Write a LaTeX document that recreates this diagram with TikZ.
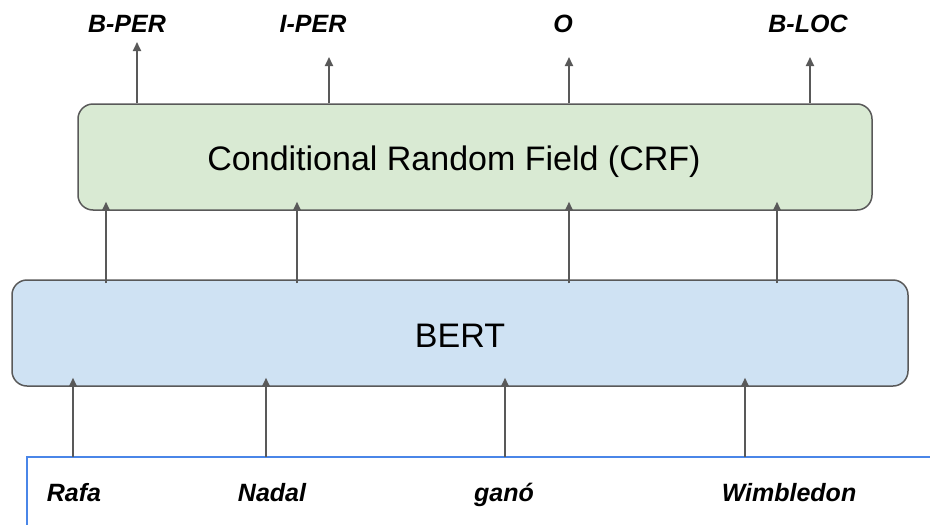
\documentclass[tikz,border=0pt]{standalone}
\usepackage{fontspec}
\setmainfont{Liberation Sans}
\usetikzlibrary{positioning, arrows.meta}
\definecolor{crfgreen}{HTML}{D9EAD3}
\definecolor{bertblue}{HTML}{CFE2F3}
\definecolor{edgegray}{HTML}{595959}
\definecolor{lineblue}{HTML}{4A86E8}

\begin{document}
\begin{tikzpicture}[
	x=1pt,
	y=-1pt,
	every layer/.style={draw=edgegray, line width=1.5pt, rounded corners=15pt, inner sep=0pt, minimum height=106pt},
	layer text/.style={font=\fontsize{34}{40}\selectfont, inner sep=0pt, anchor=base},
	tag/.style={font=\fontsize{25}{30}\selectfont\bfseries\itshape, inner sep=0pt, anchor=base},
	link/.style={draw=edgegray, line width=2pt, -{Triangle[length=9pt, width=8pt]}},
	into/.style={shorten >=-9pt}
]
\useasboundingbox (0,0) rectangle (930,525);

% the two layers
\node[every layer, fill=crfgreen, minimum width=794pt] (crf) at (475,157) {};
\node[layer text] (crflabel) at (454,170) {Conditional Random Field (CRF)};
\node[every layer, fill=bertblue, minimum width=896pt] (bert) at (460,333) {};
\node[layer text] (bertlabel) at (460,347) {BERT};

% input words
\draw[lineblue, line width=2pt] (27,525) -- (27,457) -- (930,457);
\node[tag] (rafa) at (74,501) {Rafa};
\node[tag] (nadal) at (272,501) {Nadal};
\node[tag] (gano) at (504,501) {ganó};
\node[tag] (wimbledon) at (789,501) {Wimbledon};

% output tags
\node[tag] (bper) at (127,32) {B-PER};
\node[tag] (iper) at (313,32) {I-PER};
\node[tag] (otag) at (563,32) {O};
\node[tag] (bloc) at (808,32) {B-LOC};

\coordinate (in1) at (73,457);
\coordinate (in2) at (266,457);
\coordinate (in3) at (505,457);
\coordinate (in4) at (745,457);
\draw[link, into] (in1) -- (in1 |- bert.south);
\draw[link, into] (in2) -- (in2 |- bert.south);
\draw[link, into] (in3) -- (in3 |- bert.south);
\draw[link, into] (in4) -- (in4 |- bert.south);

\draw[link, into, shorten <=-4pt] (bert.north -| 106,0) -- (crf.south -| 106,0);
\draw[link, into, shorten <=-4pt] (bert.north -| 297,0) -- (crf.south -| 297,0);
\draw[link, into, shorten <=-4pt] (bert.north -| 569,0) -- (crf.south -| 569,0);
\draw[link, into, shorten <=-4pt] (bert.north -| 777,0) -- (crf.south -| 777,0);

\coordinate (out1) at (137,42);
\coordinate (out2) at (329,57);
\coordinate (out3) at (569,57);
\coordinate (out4) at (810,57);
\draw[link] (crf.north -| out1) -- (out1);
\draw[link] (crf.north -| out2) -- (out2);
\draw[link] (crf.north -| out3) -- (out3);
\draw[link] (crf.north -| out4) -- (out4);

\end{tikzpicture}
\end{document}
